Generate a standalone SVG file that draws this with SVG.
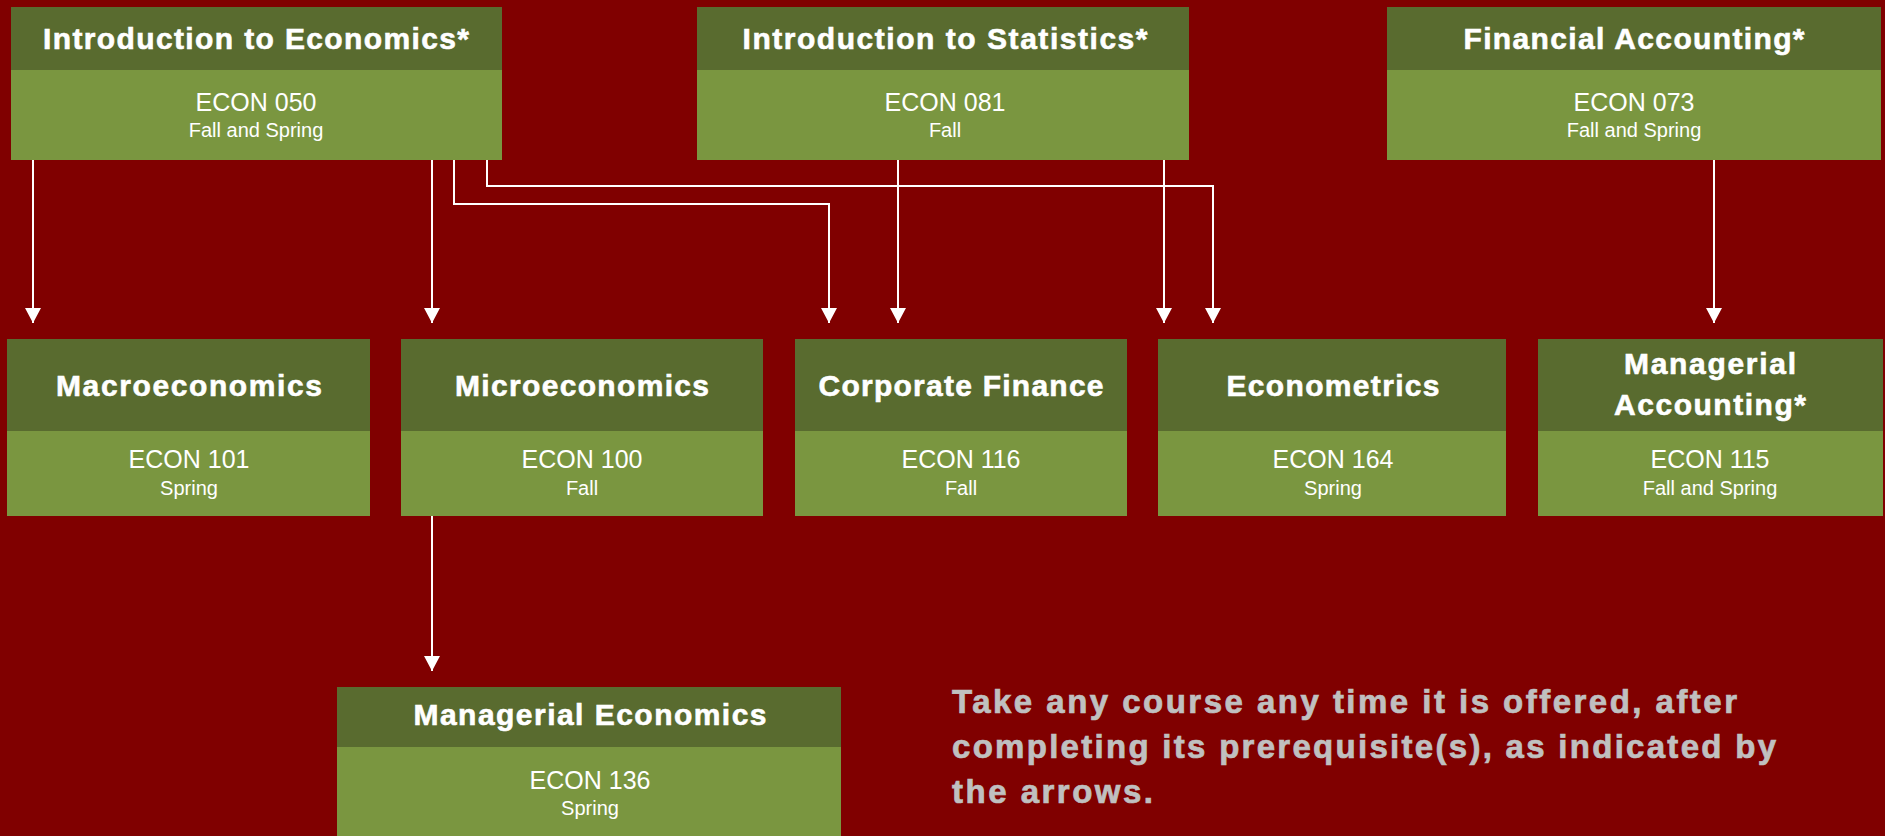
<svg xmlns="http://www.w3.org/2000/svg" width="1885" height="836" viewBox="0 0 1885 836">
<style>
.hd{fill:#596B2F}
.bd{fill:#7A9640}
.t{font-family:"Liberation Sans",Arial,sans-serif;font-weight:bold;font-size:30px;fill:#FFFFFF;stroke:#FFFFFF;stroke-width:0.6;text-anchor:middle}
.c{font-family:"Liberation Sans",Arial,sans-serif;font-size:25px;fill:#FFFFFF;text-anchor:middle}
.s{font-family:"Liberation Sans",Arial,sans-serif;font-size:20px;fill:#FFFFFF;text-anchor:middle}
.ln{fill:none;stroke:#FFFFFF;stroke-width:2;marker-end:url(#ah)}
.note{font-family:"Liberation Sans",Arial,sans-serif;font-weight:bold;font-size:33px;fill:#C0C0C0;stroke:#C0C0C0;stroke-width:0.7}
</style>
<defs>
<marker id="ah" viewBox="0 0 15 16" refX="15" refY="8" markerWidth="15" markerHeight="16" markerUnits="userSpaceOnUse" orient="auto">
<path d="M0,0 L15,8 L0,16 z" fill="#FFFFFF"/>
</marker>
</defs>
<rect x="0" y="0" width="1885" height="836" fill="#800000"/>

<g id="econ050">
<rect class="hd" x="11" y="7" width="491" height="63"/>
<rect class="bd" x="11" y="70" width="491" height="90"/>
<text class="t" x="256" y="49" textLength="426" lengthAdjust="spacing">Introduction to Economics*</text>
<text class="c" x="256" y="111">ECON 050</text>
<text class="s" x="256" y="137">Fall and Spring</text>
</g>

<g id="econ081">
<rect class="hd" x="697" y="7" width="492" height="63"/>
<rect class="bd" x="697" y="70" width="492" height="90"/>
<text class="t" x="945" y="49" textLength="405" lengthAdjust="spacing">Introduction to Statistics*</text>
<text class="c" x="945" y="111">ECON 081</text>
<text class="s" x="945" y="137">Fall</text>
</g>

<g id="econ073">
<rect class="hd" x="1387" y="7" width="494" height="63"/>
<rect class="bd" x="1387" y="70" width="494" height="90"/>
<text class="t" x="1634" y="49" textLength="341" lengthAdjust="spacing">Financial Accounting*</text>
<text class="c" x="1634" y="111">ECON 073</text>
<text class="s" x="1634" y="137">Fall and Spring</text>
</g>

<g id="econ101">
<rect class="hd" x="7" y="339" width="363" height="92"/>
<rect class="bd" x="7" y="431" width="363" height="85"/>
<text class="t" x="189" y="396" textLength="266" lengthAdjust="spacing">Macroeconomics</text>
<text class="c" x="189" y="468">ECON 101</text>
<text class="s" x="189" y="495">Spring</text>
</g>

<g id="econ100">
<rect class="hd" x="401" y="339" width="362" height="92"/>
<rect class="bd" x="401" y="431" width="362" height="85"/>
<text class="t" x="582" y="396" textLength="254" lengthAdjust="spacing">Microeconomics</text>
<text class="c" x="582" y="468">ECON 100</text>
<text class="s" x="582" y="495">Fall</text>
</g>

<g id="econ116">
<rect class="hd" x="795" y="339" width="332" height="92"/>
<rect class="bd" x="795" y="431" width="332" height="85"/>
<text class="t" x="961" y="396" textLength="285" lengthAdjust="spacing">Corporate Finance</text>
<text class="c" x="961" y="468">ECON 116</text>
<text class="s" x="961" y="495">Fall</text>
</g>

<g id="econ164">
<rect class="hd" x="1158" y="339" width="348" height="92"/>
<rect class="bd" x="1158" y="431" width="348" height="85"/>
<text class="t" x="1333" y="396" textLength="213" lengthAdjust="spacing">Econometrics</text>
<text class="c" x="1333" y="468">ECON 164</text>
<text class="s" x="1333" y="495">Spring</text>
</g>

<g id="econ115">
<rect class="hd" x="1538" y="339" width="345" height="92"/>
<rect class="bd" x="1538" y="431" width="345" height="85"/>
<text class="t" x="1710" y="374" textLength="172" lengthAdjust="spacing">Managerial</text>
<text class="t" x="1710" y="415" textLength="192" lengthAdjust="spacing">Accounting*</text>
<text class="c" x="1710" y="468">ECON 115</text>
<text class="s" x="1710" y="495">Fall and Spring</text>
</g>

<g id="econ136">
<rect class="hd" x="337" y="687" width="504" height="60"/>
<rect class="bd" x="337" y="747" width="504" height="89"/>
<text class="t" x="590" y="725" textLength="353" lengthAdjust="spacing">Managerial Economics</text>
<text class="c" x="590" y="789">ECON 136</text>
<text class="s" x="590" y="815">Spring</text>
</g>

<g id="connectors">
<path class="ln" d="M33,160 V323"/>
<path class="ln" d="M432,160 V323"/>
<path class="ln" d="M454,160 V204 H829 V323"/>
<path class="ln" d="M487,160 V186 H1213 V323"/>
<path class="ln" d="M898,160 V323"/>
<path class="ln" d="M1164,160 V323"/>
<path class="ln" d="M1714,160 V323"/>
<path class="ln" d="M432,516 V671"/>
</g>

<g id="note">
<text class="note" x="952" y="713" textLength="785" lengthAdjust="spacing">Take any course any time it is offered, after</text>
<text class="note" x="952" y="758" textLength="824" lengthAdjust="spacing">completing its prerequisite(s), as indicated by</text>
<text class="note" x="952" y="803" textLength="201" lengthAdjust="spacing">the arrows.</text>
</g>
</svg>
